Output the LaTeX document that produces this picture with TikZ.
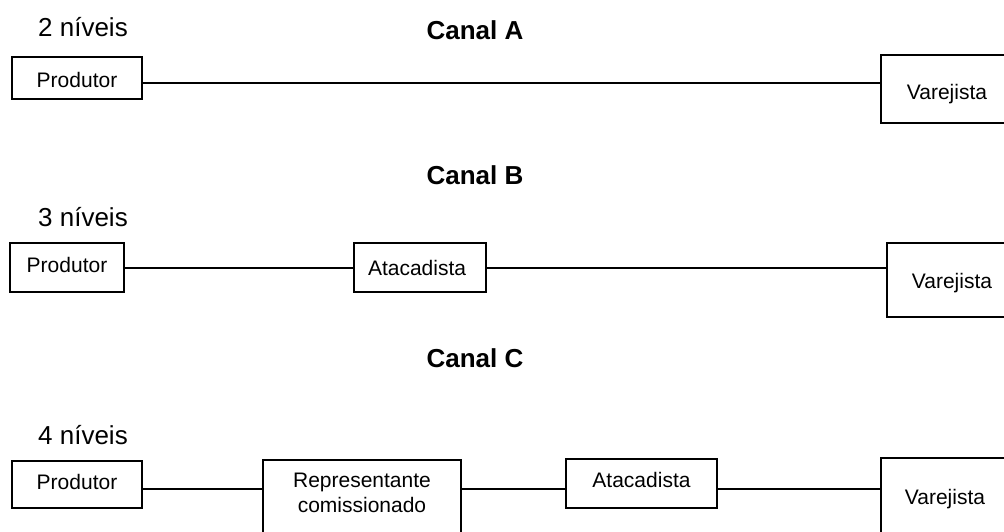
\documentclass[tikz,border=0pt]{standalone}
\usepackage{fontspec}
\setmainfont{Liberation Sans}
\begin{document}
\begin{tikzpicture}[x=1pt,y=-1pt,
  box/.style={draw,line width=1.4pt,inner sep=0pt,font=\fontsize{21}{23}\selectfont,text depth=0pt},
  conn/.style={line width=1.3pt},
  head/.style={anchor=base,inner sep=0pt,font=\fontsize{26}{28}\selectfont\bfseries},
  lvl/.style={anchor=base,inner sep=0pt,font=\fontsize{26}{28}\selectfont}]
\clip (0,0) rectangle (1004,531);
\fill[white] (0,0) rectangle (1004,531);
% headers
\node[lvl]  (l2) at (83,36) {2 níveis};
\node[head] (hA) at (475,39) {Canal A};
\node[head] (hB) at (475,184) {Canal B};
\node[lvl]  (l3) at (83,226) {3 níveis};
\node[head] (hC) at (475,367) {Canal C};
\node[lvl]  (l4) at (83,444) {4 níveis};
% row A
\node[box,minimum width=130pt,minimum height=42pt,text height=18pt] (pA) at (77,78) {Produtor};
\node[box,minimum width=132pt,minimum height=68pt,text height=20pt] (vA) at (947,89) {Varejista};
\coordinate (yA) at (0,83);
\draw[conn] (pA.east |- yA) -- (vA.west |- yA);
% row B
\node[box,minimum width=114pt,minimum height=49pt,text height=9pt] (pB) at (67,267.5) {Produtor};
\node[box,minimum width=132pt,minimum height=49pt,text height=15pt,text width=104pt,inner xsep=14pt,align=left] (aB) at (420,267.5) {Atacadista};
\node[box,minimum width=130pt,minimum height=74pt,text height=16pt] (vB) at (952,280) {Varejista};
\coordinate (yB) at (0,268);
\draw[conn] (pB.east |- yB) -- (aB.west |- yB);
\draw[conn] (aB.east |- yB) -- (vB.west |- yB);
% row C
\node[box,minimum width=130pt,minimum height=47pt,text height=9pt] (pC) at (77,484.5) {Produtor};
\node[box,minimum width=198pt,minimum height=76pt,align=center,text height=28pt] (rC) at (362,498) {Representante\\[2pt]comissionado};
\node[box,minimum width=151pt,minimum height=49pt,text height=7pt] (aC) at (641.5,483.5) {Atacadista};
\node[box,minimum width=128pt,minimum height=76pt,text height=16pt] (vC) at (945,496) {Varejista};
\coordinate (yC) at (0,489);
\draw[conn] (pC.east |- yC) -- (rC.west |- yC);
\draw[conn] (rC.east |- yC) -- (aC.west |- yC);
\draw[conn] (aC.east |- yC) -- (vC.west |- yC);
\end{tikzpicture}
\end{document}
